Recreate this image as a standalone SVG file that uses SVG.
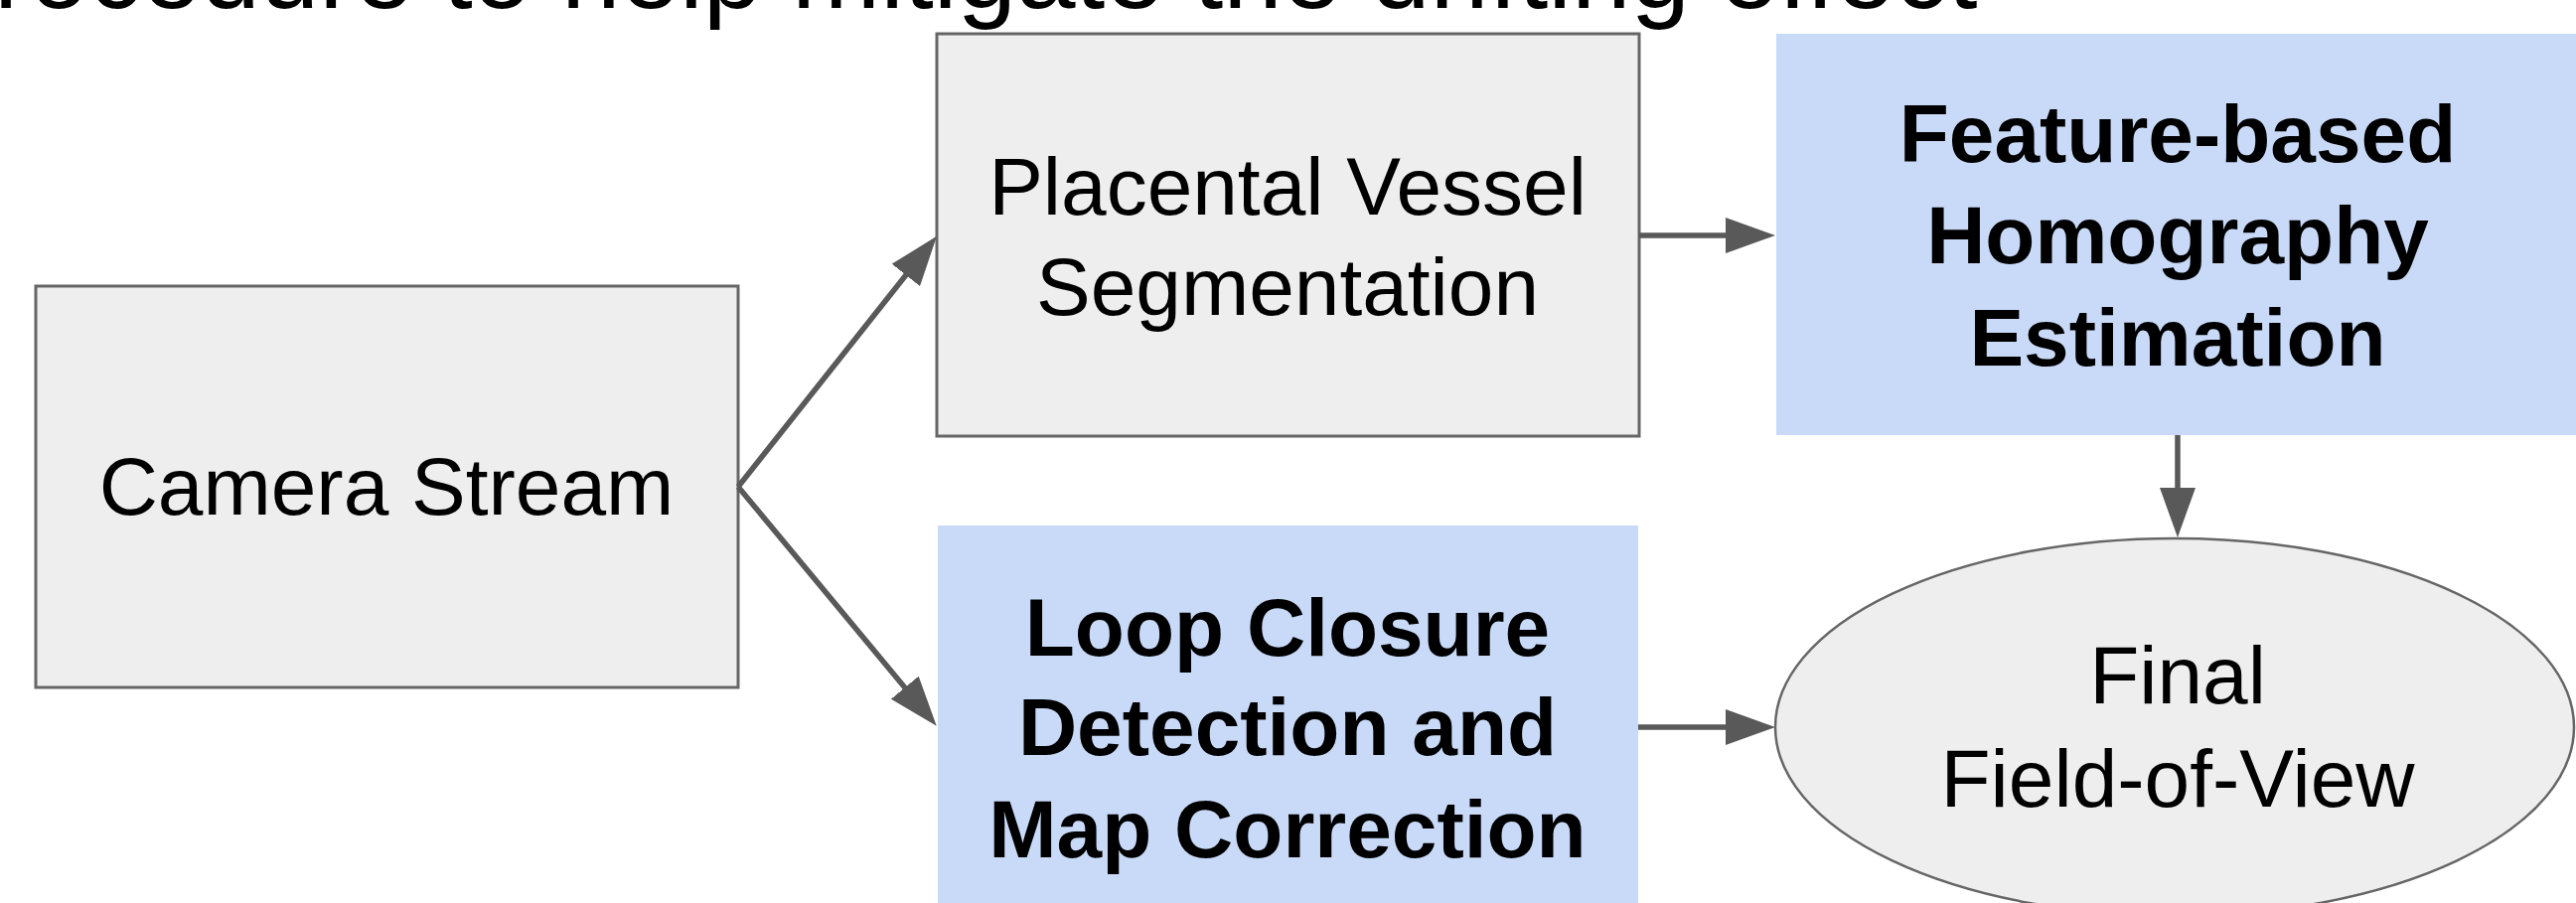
<svg xmlns="http://www.w3.org/2000/svg" width="2593" height="909" viewBox="0 0 2593 909">
  <style>
    .plain rect, .plain ellipse { fill: #eeeeee; stroke: #666666; stroke-width: 3; }
    .accent rect { fill: #c9daf8; }
    text { font-family: "Liberation Sans", Arial, sans-serif; font-size: 82px; fill: #000000; text-anchor: middle; }
    .accent text { font-weight: bold; }
    .caption { font-size: 107px; text-anchor: start; }
    #connectors line { stroke: #595959; stroke-width: 5.5; fill: none; marker-end: url(#arrow); }
  </style>
  <defs>
    <marker id="arrow" markerUnits="userSpaceOnUse" markerWidth="50" markerHeight="36" refX="5" refY="18" orient="auto">
      <path d="M0,0 L50,18 L0,36 Z" fill="#595959"/>
    </marker>
  </defs>
  <rect width="2593" height="909" fill="#ffffff"/>

  <!-- running text line above the chart -->
  <text class="caption" x="-6" y="8">rocedure to help mitigate the drifting effect</text>

  <g id="camera-stream" class="plain">
    <rect x="36" y="288" width="707" height="404"/>
    <text x="389" y="518">Camera Stream</text>
  </g>

  <g id="vessel-segmentation" class="plain">
    <rect x="943" y="34" width="707" height="405"/>
    <text x="1296" y="216">Placental Vessel</text>
    <text x="1296" y="317">Segmentation</text>
  </g>

  <g id="homography-estimation" class="accent">
    <rect x="1788" y="34" width="810" height="404"/>
    <text x="2192" y="163">Feature-based</text>
    <text x="2192" y="265">Homography</text>
    <text x="2192" y="368">Estimation</text>
  </g>

  <g id="loop-closure" class="accent">
    <rect x="944" y="529" width="705" height="420"/>
    <text x="1296" y="660">Loop Closure</text>
    <text x="1296" y="760">Detection and</text>
    <text x="1296" y="863">Map Correction</text>
  </g>

  <g id="final-fov" class="plain">
    <ellipse cx="2189" cy="732" rx="402" ry="190" style="stroke-width:2.5"/>
    <text x="2192" y="708">Final</text>
    <text x="2192" y="812">Field-of-View</text>
  </g>

  <g id="connectors">
    <line x1="743" y1="490" x2="915" y2="273"/>
    <line x1="743" y1="490" x2="914" y2="696"/>
    <line x1="1650" y1="237" x2="1742" y2="237"/>
    <line x1="2192" y1="438" x2="2192" y2="496"/>
    <line x1="1649" y1="732" x2="1742" y2="732"/>
  </g>
</svg>
